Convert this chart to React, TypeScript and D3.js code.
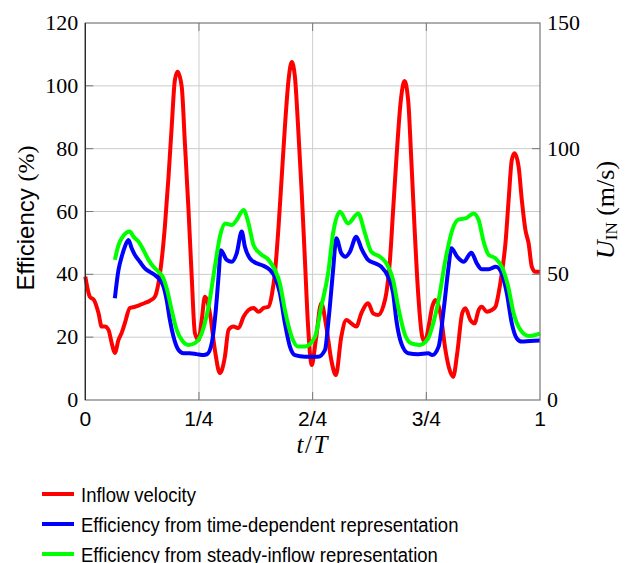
import React, { useEffect, useRef } from 'react';
import * as d3 from 'd3';

// [t/T, m/s]
const inflowVelocity: [number, number][] = [
  [0, 49.1], [0.010, 41.1], [0.019, 39.8], [0.029, 34.6], [0.036, 29.2], [0.043, 29.2],
  [0.051, 27.9], [0.058, 22.7], [0.065, 18.7], [0.073, 23.9], [0.080, 26.7], [0.087, 30.6],
  [0.098, 36.6], [0.109, 37.1], [0.120, 37.8], [0.131, 38.6], [0.142, 39.5], [0.153, 41.1],
  [0.161, 46.6], [0.168, 55.7], [0.175, 69.0], [0.183, 88.8], [0.190, 108.7], [0.197, 127.3],
  [0.203, 130.6], [0.212, 124.7], [0.219, 102.3], [0.227, 75.6], [0.234, 49.1], [0.241, 26.7],
  [0.249, 23.9], [0.256, 31.8], [0.263, 41.1], [0.274, 34.6], [0.285, 19.9], [0.296, 10.7],
  [0.307, 17.2], [0.315, 27.9], [0.326, 29.2], [0.337, 28.6], [0.348, 33.1], [0.359, 35.8],
  [0.370, 36.6], [0.381, 35.1], [0.392, 36.6], [0.403, 37.1], [0.411, 42.6], [0.417, 50.5],
  [0.425, 69.0], [0.432, 88.8], [0.439, 108.7], [0.447, 127.3], [0.454, 134.5], [0.461, 128.6],
  [0.468, 108.7], [0.476, 82.4], [0.483, 55.7], [0.490, 29.2], [0.498, 13.9], [0.507, 23.9],
  [0.519, 38.5], [0.530, 29.2], [0.541, 15.9], [0.551, 9.9], [0.563, 25.2], [0.574, 31.8],
  [0.585, 30.5], [0.596, 29.2], [0.607, 34.5], [0.622, 38.5], [0.633, 34.5], [0.644, 33.8],
  [0.655, 37.1], [0.662, 42.5], [0.670, 55.7], [0.677, 75.6], [0.684, 95.5], [0.694, 119.4],
  [0.702, 126.9], [0.710, 119.4], [0.717, 95.5], [0.724, 69.0], [0.732, 42.5], [0.741, 25.2],
  [0.747, 23.1], [0.755, 29.2], [0.763, 37.1], [0.770, 39.8], [0.781, 34.5], [0.792, 19.9],
  [0.800, 12.7], [0.809, 9.2], [0.818, 18.7], [0.829, 34.6], [0.836, 36.5], [0.847, 31.8],
  [0.856, 30.5], [0.865, 35.8], [0.872, 37.1], [0.883, 35.1], [0.894, 35.8], [0.902, 37.1],
  [0.909, 42.5], [0.916, 50.4], [0.924, 62.3], [0.931, 79.6], [0.938, 95.5], [0.944, 98.2],
  [0.953, 92.8], [0.960, 79.6], [0.968, 67.6], [0.975, 62.3], [0.982, 53.0], [0.990, 51.0],
  [1, 51.0],
];

// [t/T, %]
const effTimeDependent: [number, number][] = [
  [0.065, 32.4], [0.073, 41.4], [0.080, 45.6], [0.087, 48.8], [0.095, 50.9], [0.102, 48.3],
  [0.109, 46.2], [0.120, 44.0], [0.131, 41.9], [0.142, 40.8], [0.153, 39.8], [0.164, 38.2],
  [0.172, 36.1], [0.179, 31.8], [0.186, 25.5], [0.194, 20.1], [0.205, 15.9], [0.216, 14.9],
  [0.230, 14.9], [0.245, 14.6], [0.260, 14.3], [0.268, 14.6], [0.278, 18.0], [0.287, 28.6],
  [0.293, 39.2], [0.298, 47.7], [0.311, 44.6], [0.322, 44.0], [0.333, 46.7], [0.344, 53.6],
  [0.351, 48.8], [0.362, 45.1], [0.377, 43.5], [0.392, 42.7], [0.406, 41.4], [0.417, 39.2],
  [0.428, 34.0], [0.439, 24.4], [0.450, 17.0], [0.461, 14.3], [0.483, 13.8], [0.512, 13.8],
  [0.527, 15.9], [0.535, 25.5], [0.545, 41.4], [0.552, 51.5], [0.563, 46.7], [0.572, 45.6],
  [0.582, 47.2], [0.596, 52.0], [0.607, 48.3], [0.622, 44.6], [0.637, 43.5], [0.651, 42.4],
  [0.666, 39.2], [0.677, 34.0], [0.684, 25.5], [0.695, 18.0], [0.710, 14.9], [0.732, 14.6],
  [0.754, 14.9], [0.763, 14.3], [0.777, 17.0], [0.788, 28.6], [0.799, 42.4], [0.805, 48.3],
  [0.818, 45.6], [0.832, 44.0], [0.849, 46.9], [0.861, 43.5], [0.872, 41.6], [0.887, 41.6],
  [0.903, 42.4], [0.916, 40.3], [0.927, 34.0], [0.938, 24.4], [0.949, 19.6], [0.960, 18.6],
  [0.978, 18.8], [1, 18.9],
];

// [t/T, %]
const effSteadyInflow: [number, number][] = [
  [0.065, 44.6], [0.073, 49.3], [0.080, 51.5], [0.091, 53.3], [0.098, 53.6], [0.106, 52.0],
  [0.117, 50.4], [0.128, 47.7], [0.139, 44.6], [0.150, 42.4], [0.161, 40.8], [0.172, 38.7],
  [0.180, 35.0], [0.190, 28.6], [0.201, 22.3], [0.212, 19.1], [0.227, 17.5], [0.241, 18.1],
  [0.256, 21.2], [0.271, 29.7], [0.285, 42.4], [0.296, 52.0], [0.307, 56.2], [0.322, 55.7],
  [0.333, 57.3], [0.348, 60.5], [0.359, 56.2], [0.370, 49.3], [0.384, 46.7], [0.403, 44.6],
  [0.417, 41.4], [0.428, 37.1], [0.439, 28.6], [0.454, 20.1], [0.468, 17.0], [0.483, 17.0],
  [0.505, 20.1], [0.519, 29.7], [0.534, 40.3], [0.545, 53.1], [0.560, 59.9], [0.578, 56.2],
  [0.600, 59.4], [0.615, 53.1], [0.629, 47.2], [0.648, 45.6], [0.662, 43.5], [0.677, 38.2],
  [0.688, 29.7], [0.702, 21.2], [0.717, 18.0], [0.735, 17.5], [0.754, 19.6], [0.763, 23.3],
  [0.777, 31.8], [0.792, 44.6], [0.807, 54.1], [0.821, 57.5], [0.836, 57.8], [0.854, 59.4],
  [0.865, 57.3], [0.876, 50.4], [0.887, 46.2], [0.902, 45.1], [0.916, 42.4], [0.930, 36.1],
  [0.942, 27.6], [0.957, 22.3], [0.975, 20.4], [0.990, 20.7], [1, 21.2],
];

const xTicks = [0, 0.25, 0.5, 0.75, 1];
const xTickLabels = ['0', '1/4', '2/4', '3/4', '1'];
const leftTicks = [0, 20, 40, 60, 80, 100, 120];
const rightTicks = [0, 50, 100, 150];
const legendLabels = [
  'Inflow velocity',
  'Efficiency from time-dependent representation',
  'Efficiency from steady-inflow representation',
];
const seriesColors = ['#ff0000', '#0000ff', '#00ff00'];

const W = 625;
const H = 563;
const SERIF = '"Liberation Serif", "Times New Roman", serif';
const SANS = '"Liberation Sans", Arial, sans-serif';

export default function App() {
  const svgRef = useRef<SVGSVGElement>(null);

  useEffect(() => {
    if (!svgRef.current) return;
    const svg = d3.select(svgRef.current);
    svg.selectAll('*').remove();

    const margin = { top: 23, left: 85.3, right: 85, bottom: 163 };
    const x = d3.scaleLinear().domain([0, 1]).range([margin.left, W - margin.right]);
    const yL = d3.scaleLinear().domain([0, 120]).range([H - margin.bottom, margin.top]);
    const yR = d3.scaleLinear().domain([0, 150]).range([H - margin.bottom, margin.top]);
    const [x0, x1] = x.range();
    const [y0, y1] = yL.range();

    // grid
    const grid = svg.append('g').attr('stroke', '#cccccc').attr('stroke-width', 1);
    grid.selectAll('line.v')
      .data(xTicks.slice(1, -1))
      .enter()
      .append('line')
      .attr('x1', d => x(d)).attr('x2', d => x(d))
      .attr('y1', y1).attr('y2', y0);
    grid.selectAll('line.h')
      .data(leftTicks.slice(1, -1))
      .enter()
      .append('line')
      .attr('x1', x0).attr('x2', x1)
      .attr('y1', d => yL(d)).attr('y2', d => yL(d));

    // ticks (inward)
    const tk = svg.append('g').attr('stroke', '#777').attr('stroke-width', 1);
    xTicks.slice(1, -1).forEach(t => {
      tk.append('line').attr('x1', x(t)).attr('x2', x(t)).attr('y1', y0).attr('y2', y0 - 8);
      tk.append('line').attr('x1', x(t)).attr('x2', x(t)).attr('y1', y1).attr('y2', y1 + 8);
    });
    leftTicks.slice(1, -1).forEach(v => {
      tk.append('line').attr('x1', x0).attr('x2', x0 + 8).attr('y1', yL(v)).attr('y2', yL(v));
    });
    rightTicks.slice(1, -1).forEach(v => {
      tk.append('line').attr('x1', x1).attr('x2', x1 - 8).attr('y1', yR(v)).attr('y2', yR(v));
    });

    // series
    const line = d3.line<[number, number]>().curve(d3.curveMonotoneX);
    const series: { data: [number, number][]; y: d3.ScaleLinear<number, number> }[] = [
      { data: inflowVelocity, y: yR },
      { data: effTimeDependent, y: yL },
      { data: effSteadyInflow, y: yL },
    ];
    series.forEach((s, i) => {
      svg.append('path')
        .attr('d', line.x(d => x(d[0])).y(d => s.y(d[1]))(s.data) || '')
        .attr('fill', 'none')
        .attr('stroke', seriesColors[i])
        .attr('stroke-width', 4)
        .attr('stroke-linejoin', 'round');
    });

    // frame
    svg.append('rect')
      .attr('x', x0).attr('y', y1).attr('width', x1 - x0).attr('height', y0 - y1)
      .attr('fill', 'none').attr('stroke', '#777').attr('stroke-width', 1.2);
    svg.append('line')
      .attr('x1', x0).attr('x2', x0).attr('y1', y1).attr('y2', y0)
      .attr('stroke', '#222').attr('stroke-width', 1.2);

    // tick labels
    svg.append('g').selectAll('text')
      .data(leftTicks)
      .enter()
      .append('text')
      .attr('x', x0 - 7).attr('y', d => yL(d) + 7)
      .attr('text-anchor', 'end')
      .attr('font-family', SERIF).attr('font-size', 22)
      .text(d => d);
    svg.append('g').selectAll('text')
      .data(rightTicks)
      .enter()
      .append('text')
      .attr('x', x1 + 7).attr('y', d => yR(d) + 7)
      .attr('text-anchor', 'start')
      .attr('font-family', SERIF).attr('font-size', 22)
      .text(d => d);
    svg.append('g').selectAll('text')
      .data(xTicks)
      .enter()
      .append('text')
      .attr('x', d => x(d)).attr('y', y0 + 26)
      .attr('text-anchor', 'middle')
      .attr('font-family', SANS).attr('font-size', 21)
      .text((d, i) => xTickLabels[i]);

    // axis titles
    const xt = svg.append('text')
      .attr('x', (x0 + x1) / 2).attr('y', 453)
      .attr('text-anchor', 'middle')
      .attr('font-family', SERIF).attr('font-size', 25)
      .attr('letter-spacing', 1.5);
    xt.append('tspan').attr('font-style', 'italic').text('t');
    xt.append('tspan').text('/');
    xt.append('tspan').attr('font-style', 'italic').text('T');

    const yt = svg.append('text')
      .attr('transform', `translate(34,218) rotate(-90)`)
      .attr('text-anchor', 'middle')
      .attr('font-size', 24);
    yt.append('tspan').attr('font-family', SANS).text('Efficiency ');
    yt.append('tspan').attr('font-family', SERIF).text('(%)');

    const rt = svg.append('text')
      .attr('transform', `translate(614,210) rotate(-90)`)
      .attr('text-anchor', 'middle')
      .attr('font-family', SERIF).attr('font-size', 26);
    rt.append('tspan').attr('font-style', 'italic').text('U');
    rt.append('tspan').attr('font-size', 17).attr('dy', 3).text('IN');
    rt.append('tspan').attr('dy', -3).text(' (m/s)');

    // legend
    const lg = svg.append('g');
    legendLabels.forEach((label, i) => {
      const ly = 494 + i * 30;
      lg.append('line')
        .attr('x1', 42).attr('x2', 74).attr('y1', ly).attr('y2', ly)
        .attr('stroke', seriesColors[i]).attr('stroke-width', 4);
      lg.append('text')
        .attr('transform', `translate(81,${ly + 7.5}) scale(0.88,1)`)
        .attr('font-family', SANS).attr('font-size', 21)
        .text(label);
    });
  }, []);

  return (
    <svg
      ref={svgRef}
      width={W}
      height={H}
      style={{ position: 'absolute', left: 0, top: 0, background: '#fff' }}
    />
  );
}
